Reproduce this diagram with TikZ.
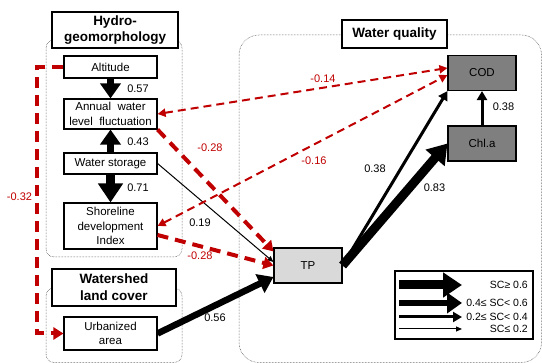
\documentclass[tikz,border=0pt]{standalone}
\usepackage{fontspec}
\setmainfont{Liberation Sans}
\usetikzlibrary{arrows.meta,calc,positioning}
\definecolor{negred}{RGB}{192,0,0}
\definecolor{darkbox}{RGB}{127,127,127}
\definecolor{lightbox}{RGB}{217,217,217}

\tikzset{
  var/.style={draw, line width=1.1pt, minimum width=93pt, inner sep=1pt, align=center,
    font=\fontsize{11.5}{14.5}\selectfont},
  wq/.style={var, minimum width=68pt, minimum height=35pt},
  grouptitle/.style={draw, fill=white, line width=1.2pt, inner sep=1pt, align=center,
    font=\fontsize{13.5}{16.7}\selectfont\bfseries},
  group/.style={draw=black!85, densely dotted, line width=0.5pt, rounded corners=#1},
  coef/.style={font=\fontsize{11}{13}\selectfont},
  negcoef/.style={coef, text=negred},
  legtext/.style={font=\fontsize{10.5}{12}\selectfont, anchor=east, inner sep=0pt},
  sc1/.style={line width=9pt, -{Triangle[length=19pt,width=24pt]}},
  sc2/.style={line width=6.5pt, -{Triangle[length=15pt,width=20pt]}},
  sc3/.style={line width=3pt, -{Triangle[length=9pt,width=10pt]}},
  sc4/.style={line width=1pt, -{Triangle[length=6pt,width=5pt]}},
  negthick/.style={negred, line width=4pt, dash pattern=on 11pt off 7pt,
    -{Triangle[length=10pt,width=12pt]}},
  negthin/.style={negred, line width=2pt, dash pattern=on 8pt off 5pt,
    {Triangle[length=8pt,width=8pt]}-{Triangle[length=8pt,width=8pt]}},
}

\begin{document}
\begin{tikzpicture}[x=1pt, y=1pt, node distance=50pt, on grid]
  \useasboundingbox (0,0) rectangle (542,363);

  % group frames
  \draw[group=8pt] (46,106) rectangle (182,323);
  \draw[group=8pt] (46,0.5) rectangle (182,75);
  \draw[group=20pt] (239,0.5) rectangle (541.5,328);

  \node[grouptitle, minimum width=126pt, minimum height=36pt] (hydro) at (115,333) {Hydro-\\geomorphology};
  \node[grouptitle, minimum width=124pt, minimum height=37pt] (land) at (114,75.5) {Watershed\\land cover};
  \node[grouptitle, minimum width=105pt, minimum height=28pt] (quality) at (394.5,329) {Water quality};

  % variables
  \node[var, minimum height=22pt] (alt) at (110.5,296) {Altitude};
  \node[var, minimum height=30pt] (ann) [below=47pt of alt] {Annual~~water\\level~~fluctuation};
  \node[var, minimum height=21pt] (stor) [below=49.5pt of ann] {Water storage};
  \node[var, minimum height=46pt] (shore) [below=62.5pt of stor] {Shoreline\\development\\Index};
  \node[var, minimum height=33pt] (urb) [below=107.5pt of shore] {Urbanized\\area};

  \node[wq, fill=darkbox] (cod) at (482,290) {COD};
  \node[wq, fill=darkbox] (chl) [below=70.5pt of cod] {Chl.a};
  \node[wq, fill=lightbox] (tp) at (308,97.5) {TP};

  % paths
  \path (alt) edge[sc2] (ann)
        (stor) edge[sc2] (ann)
        (stor) edge[sc1] (shore)
        (chl) edge[sc3] (cod);
  \draw[sc4] (stor.east) -- ($(tp.west)+(0,3.5)$);
  \draw[sc2] (urb.east) -- ($(tp.west)+(0,-11.5)$);
  \draw[sc3] (tp.east) -- (cod.south west);
  \draw[sc1] (tp.east) -- (chl.west);

  \draw[negthin] (ann.east) -- ($(cod.west)+(0,5)$);
  \draw[negthin] (shore.east) -- ($(cod.west)+(0,-2)$);
  \draw[negthick] (ann.south east) -- ($(tp.north west)+(0,-4)$);
  \draw[negthick] ($(shore.east)+(0,-9)$) -- (tp.west);
  \draw[negthick] (alt.west) -- ++(-26,0) |- (urb.west);

  % coefficients
  \node[coef] (c57) at (138,274) {0.57};
  \node[coef] (c43) at (138,221) {0.43};
  \node[coef] (c71) at (138,175) {0.71};
  \node[coef] (c19) at (200,140) {0.19};
  \node[coef] (c56) at (215,45) {0.56};
  \node[coef] (c38a) at (375,194) {0.38};
  \node[coef] (c83) at (434.5,175) {0.83};
  \node[coef] (c38b) at (503.5,256) {0.38};
  \node[negcoef] (c32) at (19.5,166) {-0.32};
  \node[negcoef] (c14) at (323,284) {-0.14};
  \node[negcoef] (c16) at (314,202) {-0.16};
  \node[negcoef] (c28a) at (210,215) {-0.28};
  \node[negcoef] (c28b) at (200,107) {-0.28};

  % legend
  \node[draw, line width=1.1pt, minimum width=138pt, minimum height=68pt] (legend) at (464,58) {};
  \foreach \sty/\yy/\txt [count=\i] in {sc1/78/{SC≥ 0.6}, sc2/60/{0.4≤ SC< 0.6},
      sc3/46/{0.2≤ SC< 0.4}, sc4/34/{SC≤ 0.2}} {
    \coordinate (ls\i) at (399,\yy);
    \coordinate (le\i) at (462,\yy);
    \draw[\sty] (ls\i) -- (le\i);
    \node[legtext] (lt\i) at (528,\yy) {\txt};
  }
\end{tikzpicture}
\end{document}
